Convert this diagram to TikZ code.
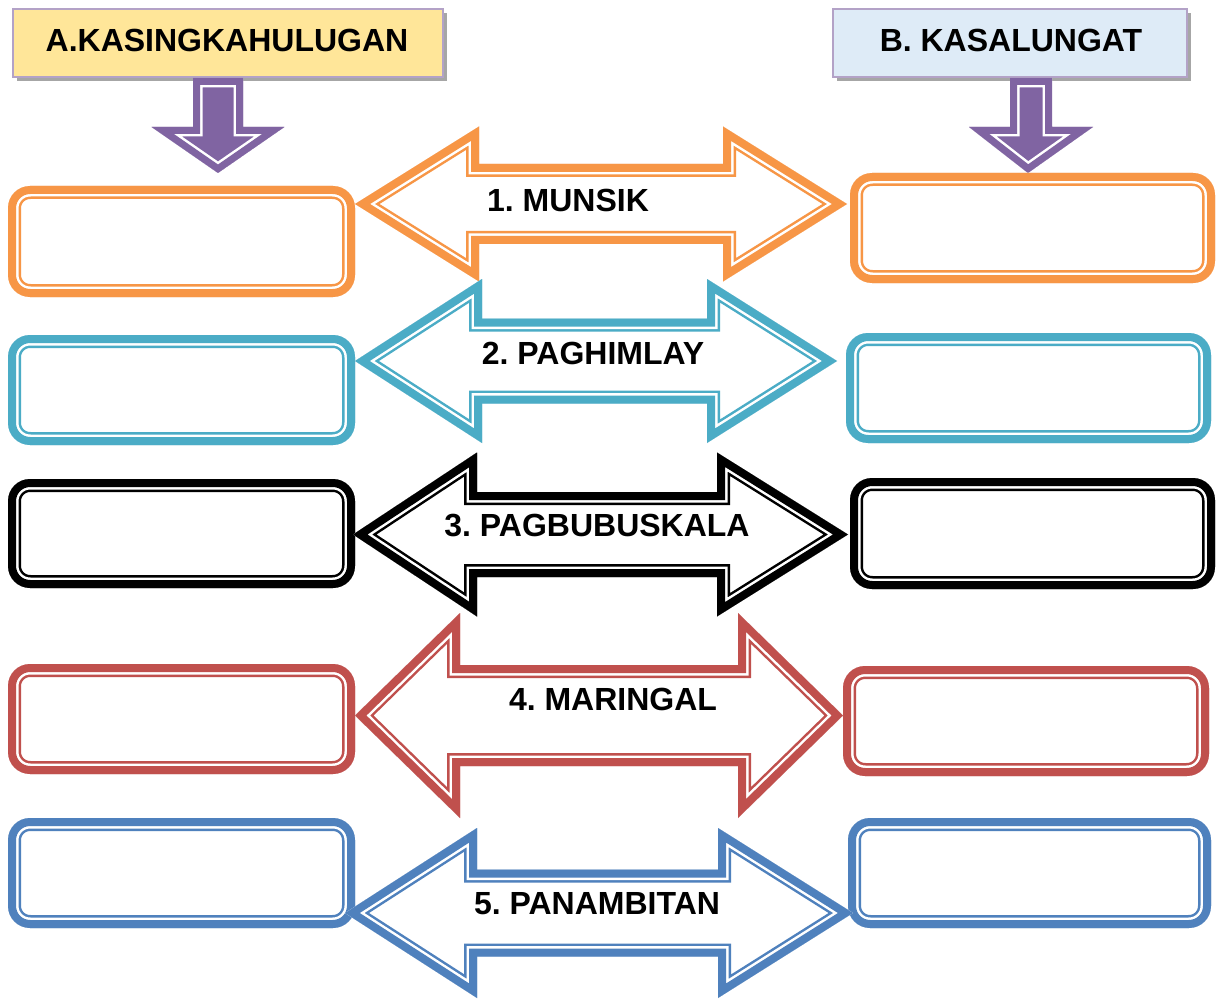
\documentclass[tikz,border=0pt]{standalone}
\usepackage{fontspec}
\setmainfont{Liberation Sans}
\frenchspacing
\definecolor{cOrange}{HTML}{F79646}
\definecolor{cTeal}{HTML}{4BACC6}
\definecolor{cRed}{HTML}{C0504D}
\definecolor{cBlue}{HTML}{4F81BD}
\definecolor{cPurple}{HTML}{8064A2}
\definecolor{cYellow}{HTML}{FFE699}
\definecolor{cLightBlue}{HTML}{DEEBF7}
\definecolor{cLavender}{HTML}{B3A2C7}
\definecolor{cShadow}{HTML}{A6A6A6}

% thick-thin double arrow: color, cy, left tip x, left neck x, right neck x, right tip x, head half height, shaft half height
\newcommand\DArrow[8]{%
  \begin{scope}
    \path[save path=\arrowpath] (#3,#2) -- (#4,{#2-#7}) -- (#4,{#2-#8}) -- (#5,{#2-#8}) -- (#5,{#2-#7}) -- (#6,#2) -- (#5,{#2+#7}) -- (#5,{#2+#8}) -- (#4,{#2+#8}) -- (#4,{#2+#7}) -- cycle;
    \clip[use path=\arrowpath];
    \draw[#1, line width=26, use path=\arrowpath];
    \draw[white, line width=21, use path=\arrowpath];
    \draw[#1, line width=16, use path=\arrowpath];
  \end{scope}}

% thick-thin rounded box: color, name, x1, y1, x2, y2
\newcommand\TBox[6]{%
  \coordinate (#2) at ({(#3+#5)/2},{(#4+#6)/2});
  \begin{scope}
    \clip[rounded corners=22] (#3,#4) rectangle (#5,#6);
    \draw[#1, line width=26, rounded corners=22] (#3,#4) rectangle (#5,#6);
    \draw[white, line width=21, rounded corners=22] (#3,#4) rectangle (#5,#6);
    \draw[#1, line width=16, rounded corners=22] (#3,#4) rectangle (#5,#6);
  \end{scope}}

% purple down arrow: name, cx, top, head y, shaft half, head half, tip x, tip y
\newcommand\DownArrow[8]{%
  \coordinate (#1) at (#7,#8);
  \begin{scope}
    \path[save path=\downpath] ({#2-#5},#3) -- ({#2+#5},#3) -- ({#2+#5},#4) -- ({#2+#6},#4) -- (#7,#8) -- ({#2-#6},#4) -- ({#2-#5},#4) -- cycle;
    \clip[use path=\downpath];
    \fill[cPurple, use path=\downpath];
    \draw[white, line width=19, use path=\downpath];
    \draw[cPurple, line width=14, use path=\downpath];
  \end{scope}}

\tikzset{
  lbl/.style={font=\fontsize{32}{38}\selectfont\bfseries, inner sep=0pt},
  headbox/.style={draw=cLavender, line width=2.5, inner sep=0pt},
}

\begin{document}
\begin{tikzpicture}[x=1pt, y=-1pt, line join=miter, miter limit=20]
\useasboundingbox (0,0) rectangle (1217,1000);
\fill[white] (0,0) rectangle (1217,1000);

% header boxes
\fill[cShadow] (17,13) rectangle (447,81);
\draw[headbox, fill=cYellow] (13,9) rectangle (443,77);
\node[lbl] (hA) at (227,40) {A.KASINGKAHULUGAN};
\fill[cShadow] (837,13) rectangle (1191,81);
\draw[headbox, fill=cLightBlue] (833,9) rectangle (1187,77);
\node[lbl] (hB) at (1011,40) {B. KASALUNGAT};

% purple down arrows
\DownArrow{dA}{218}{78}{127}{25}{66.5}{218}{173}
\DownArrow{dB}{1031}{78}{127}{21}{62}{1028}{173}

% boxes
\TBox{cOrange}{L1}{8}{186}{355}{297}
\TBox{cOrange}{R1}{850}{173}{1215}{283}
\TBox{cTeal}{L2}{8}{335}{355}{445}
\TBox{cTeal}{R2}{846}{333}{1211}{443}
\TBox{black}{L3}{8}{479}{355}{588}
\TBox{black}{R3}{850}{478}{1215}{589}
\TBox{cRed}{L4}{8}{664}{355}{774}
\TBox{cRed}{R4}{843}{666}{1209}{776}
\TBox{cBlue}{L5}{8}{818}{355}{928}
\TBox{cBlue}{R5}{848}{818}{1211}{928}

% double arrows
\DArrow{cOrange}{204}{355}{479}{723}{847}{77.5}{40}
\DArrow{cTeal}{361}{355}{482}{707}{837}{82}{42.5}
\DArrow{black}{534.5}{353}{477}{717}{848}{82}{42.5}
\DArrow{cRed}{715.5}{355}{460}{738}{843}{102.5}{50.5}
\DArrow{cBlue}{913}{345}{477}{718}{853}{85}{43.5}

% labels
\node[lbl] (t1) at (568,200) {1. MUNSIK};
\node[lbl] (t2) at (593,353) {2. PAGHIMLAY};
\node[lbl] (t3) at (597,526) {3. PAGBUBUSKALA};
\node[lbl] (t4) at (613,699) {4. MARINGAL};
\node[lbl] (t5) at (597,904) {5. PANAMBITAN};
\end{tikzpicture}
\end{document}
